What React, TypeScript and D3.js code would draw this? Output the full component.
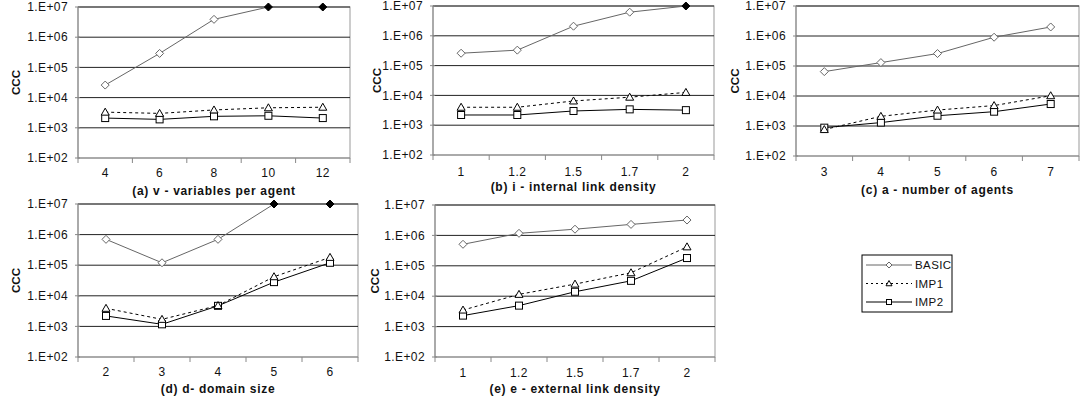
import React from 'react';
import * as d3 from 'd3';

// category labels per panel
const catsA = ['4', '6', '8', '10', '12'];
const catsB = ['1', '1.2', '1.5', '1.7', '2'];
const catsC = ['3', '4', '5', '6', '7'];
const catsD = ['2', '3', '4', '5', '6'];
const catsE = ['1', '1.2', '1.5', '1.7', '2'];

// CCC values
const basicA = [2.6e4, 2.9e5, 3.9e6, 1e7, 1e7];
const imp1A = [3.3e3, 3.0e3, 3.9e3, 4.6e3, 4.8e3];
const imp2A = [2.1e3, 1.9e3, 2.4e3, 2.5e3, 2.1e3];

const basicB = [2.6e5, 3.3e5, 2.1e6, 6.2e6, 1e7];
const imp1B = [4.0e3, 4.0e3, 6.5e3, 8.7e3, 1.26e4];
const imp2B = [2.2e3, 2.2e3, 3.0e3, 3.4e3, 3.2e3];

const basicC = [6.5e4, 1.3e5, 2.6e5, 9.1e5, 2.0e6];
const imp1C = [760, 2.1e3, 3.4e3, 4.8e3, 1.02e4];
const imp2C = [880, 1.3e3, 2.2e3, 3.0e3, 5.4e3];

const basicD = [7.0e5, 1.2e5, 7.0e5, 1e7, 1e7];
const imp1D = [3.9e3, 1.7e3, 4.8e3, 4.2e4, 1.8e5];
const imp2D = [2.2e3, 1.17e3, 4.7e3, 2.8e4, 1.2e5];

const basicE = [5.1e5, 1.17e6, 1.6e6, 2.3e6, 3.2e6];
const imp1E = [3.5e3, 1.15e4, 2.5e4, 5.9e4, 4.2e5];
const imp2E = [2.3e3, 4.9e3, 1.4e4, 3.2e4, 1.8e5];

// runs that hit the cap are drawn as filled diamonds
const capValue = 1e7;

const yTicks = [1e2, 1e3, 1e4, 1e5, 1e6, 1e7];
const seriesNames = ['BASIC', 'IMP1', 'IMP2'];

const fmtTick = (v: number) => '1.E+' + String(Math.round(Math.log10(v))).padStart(2, '0');

const FONT = '"Liberation Sans", Arial, sans-serif';

const panels = [
  { title: '(a) v - variables per agent', cats: catsA, basic: basicA, imp1: imp1A, imp2: imp2A,
    x0: 78, x1: 350, y0: 7, y1: 158, yl: 16, lab: 177, tt: 195 },
  { title: '(b) i - internal link density', cats: catsB, basic: basicB, imp1: imp1B, imp2: imp2B,
    x0: 433, x1: 714, y0: 6, y1: 155, yl: 377, lab: 176, tt: 191 },
  { title: '(c) a - number of agents', cats: catsC, basic: basicC, imp1: imp1C, imp2: imp2C,
    x0: 796, x1: 1079, y0: 6, y1: 156, yl: 735, lab: 176, tt: 194 },
  { title: '(d) d- domain size', cats: catsD, basic: basicD, imp1: imp1D, imp2: imp2D,
    x0: 78, x1: 358, y0: 204, y1: 357, yl: 16, lab: 376, tt: 393 },
  { title: '(e) e - external link density', cats: catsE, basic: basicE, imp1: imp1E, imp2: imp2E,
    x0: 435, x1: 715, y0: 205, y1: 357, yl: 375, lab: 377, tt: 393 },
];

const Diamond = ({ x, y, filled, r = 4 }: { x: number; y: number; filled?: boolean; r?: number }) => (
  <path d={`M${x},${y - r}L${x + r},${y}L${x},${y + r}L${x - r},${y}Z`}
    fill={filled ? '#000' : '#fff'} stroke={filled ? '#000' : '#666'} strokeWidth={1} />
);
const Triangle = ({ x, y, r = 4 }: { x: number; y: number; r?: number }) => (
  <path d={`M${x},${y - r}L${x + r},${y + r * 0.75}L${x - r},${y + r * 0.75}Z`} fill="#fff" stroke="#000" strokeWidth={1} />
);
const Square = ({ x, y, r = 3.5 }: { x: number; y: number; r?: number }) => (
  <rect x={x - r} y={y - r} width={2 * r} height={2 * r} fill="#fff" stroke="#000" strokeWidth={1} />
);

const Panel = ({ p }: { p: typeof panels[number] }) => {
  const x = d3.scaleBand().domain(p.cats).range([p.x0, p.x1]).padding(0);
  const y = d3.scaleLog().domain([1e2, 1e7]).range([p.y1, p.y0]);
  const cx = (c: string) => (x(c) as number) + x.bandwidth() / 2;
  const line = d3.line<number>().x((_, i) => cx(p.cats[i])).y(d => y(d));
  const bounds = [...p.cats.map(c => x(c) as number), p.x1];
  return (
    <g>
      <rect x={p.x0} y={p.y0} width={p.x1 - p.x0} height={p.y1 - p.y0} fill="#fff" stroke="#999" />
      {yTicks.map(t => (
        <g key={t}>
          <line x1={p.x0} x2={p.x1} y1={y(t)} y2={y(t)} stroke={t === 1e2 ? '#888' : '#222'} strokeWidth={1} />
          <line x1={p.x0 - 3} x2={p.x0 + 2} y1={y(t)} y2={y(t)} stroke="#888" />
          <text x={p.x0 - 10} y={y(t)} dy="0.35em" textAnchor="end" fontSize={12} letterSpacing={0.4} fill="#111">{fmtTick(t)}</text>
        </g>
      ))}
      <line x1={p.x0} x2={p.x0} y1={p.y0} y2={p.y1} stroke="#888" />
      {bounds.map((b, i) => (
        <line key={i} x1={b} x2={b} y1={p.y1} y2={p.y1 + 5} stroke="#888" />
      ))}
      {p.cats.map(c => (
        <text key={c} x={cx(c)} y={p.lab} textAnchor="middle" fontSize={12} letterSpacing={0.4} fill="#111">{c}</text>
      ))}
      <text x={(p.x0 + p.x1) / 2} y={p.tt} textAnchor="middle" fontSize={12} letterSpacing={0.7} fontWeight="bold" fill="#111">{p.title}</text>
      <text transform={`translate(${p.yl},${(p.y0 + p.y1) / 2}) rotate(-90)`} dy="0.35em" textAnchor="middle"
        fontSize={11.5} fontWeight="bold" fill="#111">CCC</text>
      <path d={line(p.basic) || ''} fill="none" stroke="#666" strokeWidth={1} />
      <path d={line(p.imp1) || ''} fill="none" stroke="#000" strokeWidth={1} strokeDasharray="3,3" />
      <path d={line(p.imp2) || ''} fill="none" stroke="#000" strokeWidth={1} />
      {p.imp2.map((v, i) => <Square key={'s' + i} x={cx(p.cats[i])} y={y(v)} />)}
      {p.imp1.map((v, i) => <Triangle key={'t' + i} x={cx(p.cats[i])} y={y(v)} />)}
      {p.basic.map((v, i) => <Diamond key={'d' + i} x={cx(p.cats[i])} y={y(v)} filled={v >= capValue} />)}
    </g>
  );
};

const Legend = () => {
  const rows = d3.scalePoint().domain(seriesNames).range([265, 302]);
  return (
    <g>
      <rect x={862} y={255} width={90} height={57} fill="#fff" stroke="#000" />
      {seriesNames.map(n => {
        const yy = rows(n) as number;
        return (
          <g key={n}>
            <line x1={866} x2={912} y1={yy} y2={yy} stroke={n === 'BASIC' ? '#666' : '#000'}
              strokeDasharray={n === 'IMP1' ? '2,3' : undefined} />
            {n === 'BASIC' && <Diamond x={889} y={yy} r={3} />}
            {n === 'IMP1' && <Triangle x={889} y={yy} r={3} />}
            {n === 'IMP2' && <Square x={889} y={yy} r={2.5} />}
            <text x={915} y={yy} dy="0.35em" fontSize={11.5} letterSpacing={0.4} fill="#111">{n}</text>
          </g>
        );
      })}
    </g>
  );
};

export default function App() {
  return (
    <svg width={1081} height={403} style={{ position: 'absolute', left: 0, top: 0, fontFamily: FONT }}>
      <rect width={1081} height={403} fill="#fff" />
      {panels.map(p => <Panel key={p.title} p={p} />)}
      <Legend />
    </svg>
  );
}
